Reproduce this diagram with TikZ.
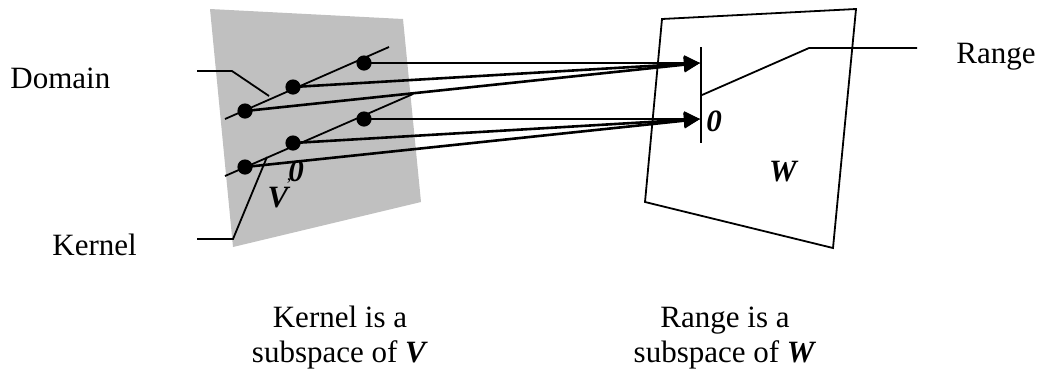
\documentclass[tikz,border=0pt]{standalone}
\usepackage{fontspec}
\setmainfont{Liberation Serif}
\usetikzlibrary{arrows.meta}
\definecolor{planegray}{RGB}{192,192,192}
\tikzset{
  pt/.style={circle, fill=black, inner sep=0pt, minimum size=7.6pt},
  mapto/.style={-{Triangle[length=8pt, width=7.5pt]}, line width=1.3pt, shorten <=-2pt},
  thin line/.style={line width=0.9pt},
  txt/.style={font=\fontsize{15.5}{18}\selectfont, inner sep=0pt},
  sym/.style={font=\fontsize{15.5}{18}\selectfont\bfseries\itshape, inner sep=0pt}
}

\begin{document}
\begin{tikzpicture}[x=0.5pt, y=-0.5pt]
  \useasboundingbox (0,0) rectangle (1037,371);

  % Planes V and W
  \fill[planegray] (210,9) -- (403,19) -- (421,202) -- (233,247) -- cycle;
  \draw[thin line] (662,19) -- (856,9) -- (833,248) -- (645,202) -- cycle;

  % Domain line and kernel line in V
  \draw[thin line] (225,119) coordinate (dom_a) -- (389,47) coordinate (dom_b);
  \draw[thin line] (225,176) coordinate (ker_a) -- (413,94) coordinate (ker_b);

  % Points of V
  \node[pt] (d1) at (245,111) {};
  \node[pt] (d2) at (293,87) {};
  \node[pt] (d3) at (364,63) {};
  \node[pt] (k1) at (245,167) {};
  \node[pt] (k2) at (293,143) {};
  \node[pt] (k3) at (364,119) {};

  % Range segment in W
  \coordinate (rng_top) at (701,47);
  \coordinate (rng_bot) at (701,143);
  \draw[line width=1.1pt] (rng_top) -- (rng_bot);
  \coordinate (img_d) at (700,63);
  \coordinate (img_k) at (700,119);

  % Mapping arrows
  \foreach \p in {d1,d2,d3}
    \draw[mapto] (\p.center) -- (img_d);
  \foreach \p in {k1,k2,k3}
    \draw[mapto] (\p.center) -- (img_k);

  % Symbols
  \node[sym] (zeroV) at (296,171) {0};
  \node[sym, font=\fontsize{9}{10}\selectfont] (tick) at (289,181) {,};
  \node[sym] (symV) at (278,198) {V};
  \node[sym] (zeroW) at (714,121) {0};
  \node[sym] (symW) at (783,172) {W};

  % Labels with pointers
  \node[txt, anchor=base west] (domain) at (10,88) {Domain};
  \coordinate (domain_p) at (197,71);
  \draw[thin line] (domain_p) -- (232,71) -- (269,96);

  \node[txt, anchor=base west] (kernel) at (52,255) {Kernel};
  \coordinate (kernel_p) at (197,239);
  \draw[thin line] (kernel_p) -- (233,239) -- (267,157);

  \node[txt, anchor=base west] (range) at (956,63) {Range};
  \coordinate (range_p) at (917,48);
  \draw[thin line] (702,95) -- (809,48) -- (range_p);

  % Captions
  \node[txt, anchor=base] (capK1) at (340,327) {Kernel is a};
  \node[txt, anchor=base] (capK2) at (340,362) {subspace of \textbf{\textit{V}}};
  \node[txt, anchor=base] (capR1) at (725,327) {Range is a};
  \node[txt, anchor=base] (capR2) at (725,362) {subspace of \textbf{\textit{W}}};
\end{tikzpicture}
\end{document}
